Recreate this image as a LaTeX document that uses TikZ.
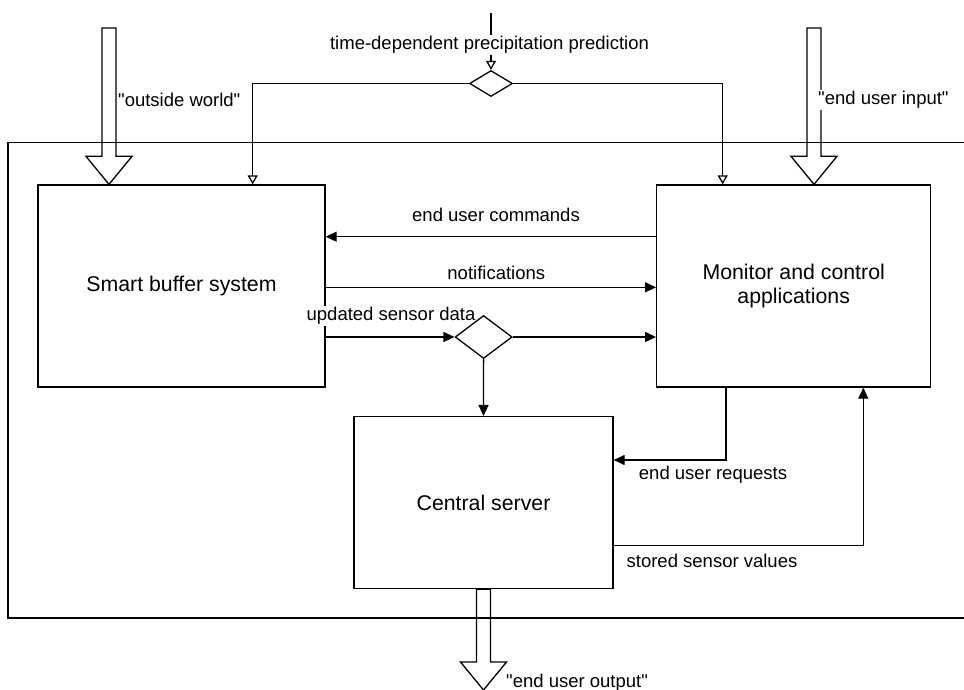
\documentclass[tikz,border=0pt]{standalone}
\usepackage{fontspec}
\setmainfont{Liberation Sans}[Ligatures=TeXOff]
\usetikzlibrary{arrows.meta,shapes.geometric,calc}

\newcommand\boxtext{\fontsize{21.3}{24.3}\selectfont}
\newcommand\labeltext{\fontsize{18.5}{22}\selectfont}
% wide hollow arrow pointing down from #1 to the tip #2
\newcommand\fatarrow[2]{%
  \draw[fatline] ($(#1)+(-7,0)$) -- ($(#2)+(-7,-28)$) -- ($(#2)+(-23,-28)$)
    -- (#2) -- ($(#2)+(23,-28)$) -- ($(#2)+(7,-28)$) -- ($(#1)+(7,0)$) -- cycle;}

\tikzset{
  stroke/.style={line width=1.3pt, draw=black},
  box/.style={stroke, rectangle, inner sep=0pt, font=\boxtext, align=center},
  junction/.style={stroke, diamond, inner sep=0pt},
  lbl/.style={font=\labeltext, inner sep=1pt},
  lblbg/.style={lbl, fill=white},
  arr/.style={stroke, -{Triangle[length=11pt,width=10pt]}},
  openarr/.style={stroke, -{Triangle[open,length=9pt,width=10pt]}},
  fatline/.style={stroke, line join=miter},
}

\begin{document}
\begin{tikzpicture}[x=1pt,y=-1pt]
\useasboundingbox (0,0) rectangle (964,690);

% system boundary, open towards the right
\draw[stroke] (964,142.7) -- (8,142.7) -- (8,618) -- (964,618);

% components
\node[box, minimum width=287pt, minimum height=202pt] (sbs) at (181.5,286) {Smart buffer system};
\node[box, minimum width=274pt, minimum height=202pt] (mca) at (793.7,286) {Monitor and control\\applications};
\node[box, minimum width=259pt, minimum height=172pt] (cs) at (483.5,502.6) {Central server};

% junctions
\node[junction, minimum width=43pt, minimum height=26pt] (d1) at (491,83.5) {};

% external flows
\coordinate (ow) at (109,28);
\coordinate (owtip) at (ow |- sbs.north);
\fatarrow{ow}{owtip}
\coordinate (ui) at (814,28);
\coordinate (uitip) at (ui |- mca.north);
\fatarrow{ui}{uitip}
\coordinate (uotip) at (cs.south |- 0,690);
\fatarrow{cs.south}{uotip}

\node[lbl, anchor=west] (owl) at (117,100) {"outside world"};
\node[lblbg, anchor=west] (uil) at (817,100) {"end user input"};
\node[lbl, anchor=west] (uol) at (505,683) {"end user output"};

% precipitation prediction
\coordinate (pp) at (491,12.7);
\draw[openarr] (pp) -- (d1.north);
\node[lblbg] (ppl) at (489.5,45) {time-dependent precipitation prediction};
\draw[openarr] (d1.west) -| ([xshift=71.2pt]sbs.north);
\draw[openarr] (d1.east) -| ([xshift=-71pt]mca.north);

% flows between components
\draw[arr] ([yshift=49.3pt]mca.west) coordinate (c1) -- (c1 -| sbs.east);
\node[lbl] (cmdl) at (496,215) {end user commands};
\draw[arr] ([yshift=-1.3pt]sbs.east) coordinate (c2) -- (c2 -| mca.west);
\node[lbl] (notl) at (496.3,272.7) {notifications};

\node[lblbg] (updl) at (391,316) {updated sensor data};
\node[junction, minimum width=57pt, minimum height=43pt] (d2) at (483.6,337) {};
\draw[arr] ([yshift=-51pt]sbs.east) coordinate (c3) -- (d2.west);
\draw[arr] (d2.east) -- (d2.east -| mca.west);
\draw[arr] (d2.south) -- (cs.north);

\draw[arr] ([xshift=-67.7pt]mca.south) |- ([yshift=42.6pt]cs.east);
\node[lbl] (reql) at (713,475) {end user requests};
\draw[arr] ([yshift=-43pt]cs.east) -| ([xshift=69.6pt]mca.south);
\node[lbl] (stol) at (712,561) {stored sensor values};
\end{tikzpicture}
\end{document}
